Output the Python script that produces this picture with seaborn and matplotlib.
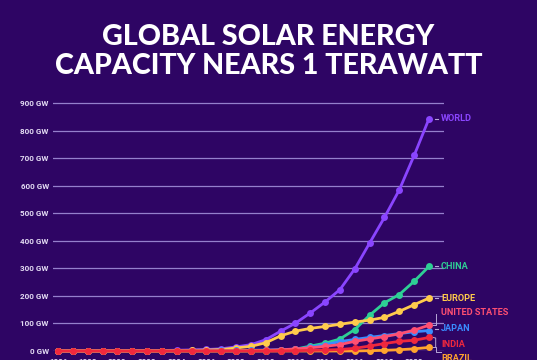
import matplotlib
matplotlib.use("Agg")
import matplotlib.pyplot as plt
import seaborn as sns
import pandas as pd
import numpy as np

years = list(range(1996, 2022))
world = [0.3, 0.4, 0.5, 0.6, 0.8, 1.0, 1.3, 1.8, 2.8, 4.0, 5.5, 8, 15, 23, 41, 72,
         101, 138, 178, 223, 298, 392, 485, 585, 710, 843]
china = [0.01, 0.01, 0.02, 0.02, 0.02, 0.03, 0.04, 0.05, 0.06, 0.07, 0.08, 0.1, 0.14,
         0.4, 1.0, 3.1, 6.7, 17.8, 28.4, 43.5, 78, 130, 175, 205, 253, 307]
europe = [0.05, 0.07, 0.09, 0.12, 0.19, 0.26, 0.4, 0.6, 1.3, 2.3, 3.3, 5.2, 11, 17,
          30, 55, 72, 82, 89, 97, 105, 112, 122, 144, 168, 192]
japan = [0.06, 0.09, 0.13, 0.21, 0.33, 0.45, 0.64, 0.86, 1.13, 1.42, 1.71, 1.92, 2.14,
         2.63, 3.6, 4.9, 6.6, 13.6, 23.3, 34.2, 42, 49.5, 56.2, 63.2, 69.8, 74.2]
usa = [0.08, 0.09, 0.1, 0.11, 0.14, 0.17, 0.21, 0.28, 0.39, 0.52, 0.62, 0.75, 1.0,
       1.2, 2.5, 4.4, 7.5, 11.6, 16.9, 23.4, 35.2, 43.7, 52.2, 62.3, 75.6, 93.7]
brazil = [0.01] * 20 + [0.1, 1.1, 2.4, 4.6, 7.9, 13]
india = [0.01, 0.01, 0.01, 0.01, 0.01, 0.01, 0.01, 0.02, 0.02, 0.02, 0.02, 0.03, 0.03,
         0.03, 0.07, 0.6, 1.2, 2.3, 3.4, 5.4, 9.7, 18, 27, 35, 39, 49]

series_names = ["WORLD", "CHINA", "EUROPE", "JAPAN", "UNITED STATES", "BRAZIL", "INDIA"]
series_vals = [world, china, europe, japan, usa, brazil, india]
colors = {"WORLD": "#8a45ff", "CHINA": "#2ecf95", "EUROPE": "#ffcb4c",
          "JAPAN": "#3a8cff", "UNITED STATES": "#ff4f72", "BRAZIL": "#ffa32e",
          "INDIA": "#f0283e"}
# label positions (GW) for the right-hand labels
label_y = {"WORLD": 843, "CHINA": 307, "EUROPE": 192, "UNITED STATES": 138,
           "JAPAN": 80, "INDIA": 25, "BRAZIL": -27}
ytick_vals = list(range(0, 1000, 100))
ytick_labels = [f"{v} GW" for v in ytick_vals]
xtick_vals = list(range(1996, 2021, 2))

df = pd.DataFrame({
    "year": np.tile(years, len(series_names)),
    "gw": np.concatenate(series_vals),
    "series": np.repeat(series_names, len(years)),
})

bg = "#2e0564"
fig = plt.figure(figsize=(5.37, 3.6), dpi=100, facecolor=bg)
ax = fig.add_axes([53 / 537, 9 / 360, (444 - 53) / 537, (351 - 95) / 360])
ax.set_facecolor(bg)

sns.lineplot(data=df, x="year", y="gw", hue="series", hue_order=series_names,
             palette=colors, marker="o", markersize=5, markeredgewidth=0,
             linewidth=2, ax=ax, legend=False)
for ln in ax.lines:
    ln.set_clip_on(False)
    ln.set_zorder(3)

ax.set_xlim(1995.66, 2022.01)
ax.set_ylim(0, 929)
ax.set_yticks(ytick_vals)
ax.set_yticklabels(ytick_labels)
ax.set_xticks(xtick_vals)
ax.set_xticklabels([str(v) for v in xtick_vals])
ax.grid(axis="y", color="#9580cc", linewidth=0.9)
ax.grid(axis="x", visible=False)
ax.set_axisbelow(True)
for s in ax.spines.values():
    s.set_visible(False)
ax.tick_params(axis="both", length=0, colors="#e4dcf4")
ax.tick_params(axis="y", pad=3)
ax.tick_params(axis="x", pad=5)
narrow = ["Roboto", "DejaVu Sans"]
for t in ax.get_yticklabels() + ax.get_xticklabels():
    t.set_fontfamily(narrow)
    t.set_fontsize(5.8)
    t.set_fontweight("bold")
ax.set_xlabel("")
ax.set_ylabel("")

for name in series_names:
    ax.text(2021.8, label_y[name], name, color=colors[name], fontsize=6.6,
            fontweight="bold", fontfamily=narrow,
            va="center", ha="left", clip_on=False)
conn = "#b8a8d8"
# dashes for direct labels
for name in ["WORLD", "CHINA", "EUROPE", "JAPAN"]:
    ax.plot([2021.4, 2021.6], [label_y[name], label_y[name]], color=conn,
            linewidth=0.8, clip_on=False)
# brackets for crowded labels
ax.plot([2021.3, 2021.45, 2021.45], [93.7, 93.7, 134], color=conn, linewidth=0.7, clip_on=False)
ax.plot([2021.3, 2021.45, 2021.45], [49, 47, 15], color=conn, linewidth=0.7, clip_on=False)
ax.plot([2021.3, 2021.45, 2021.45, 2021.8], [13, 13, -4, -4], color=conn, linewidth=0.7, clip_on=False)

title_font = ["Lato", "Roboto", "DejaVu Sans"]
fig.text(0.5, 1 - 37 / 360, "GLOBAL SOLAR ENERGY", color="white", fontsize=20.6,
         fontweight="black", fontfamily=title_font, ha="center", va="center")
fig.text(0.5, 1 - 66 / 360, "CAPACITY NEARS 1 TERAWATT", color="white", fontsize=20.6,
         fontweight="black", fontfamily=title_font, ha="center", va="center")

fig.savefig("out.png", dpi=100, facecolor=bg)
